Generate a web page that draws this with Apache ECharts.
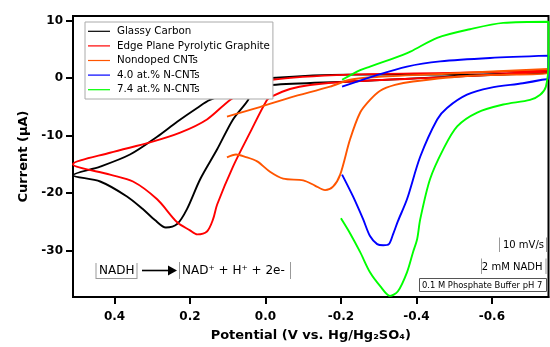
<!DOCTYPE html>
<html><head><meta charset="utf-8">
<script src="https://cdn.jsdelivr.net/npm/echarts@6/dist/echarts.min.js"></script>
<style>html,body{margin:0;padding:0;background:#fff}#c{width:550px;height:347px}</style>
</head><body><div id="c"></div>
<script>
// ---- data (Potential V vs Hg/Hg2SO4, Current µA) ----
const seriesNames = ['Glassy Carbon','Edge Plane Pyrolytic Graphite','Nondoped CNTs','4.0 at.% N-CNTs','7.4 at.% N-CNTs'];
const xTicks = [0.4, 0.2, 0, -0.2, -0.4, -0.6];
const yTicks = [10, 0, -10, -20, -30];

const gcV = [-0.75,-0.54,-0.22,-0.017,0.015,0.036,0.046,0.086,0.128,0.173,0.208,0.234,0.264,0.293,0.325,0.367,0.438,0.51,
             0.438,0.359,0.287,0.234,0.181,0.147,0.067,-0.017,-0.224,-0.542,-0.75];
const gcI = [1.1,0.6,0.6,0.0,-0.6,-2.0,-3.8,-7.2,-12.4,-17.6,-22.8,-25.4,-26.0,-24.7,-22.8,-20.6,-18.0,-16.9,
             -15.4,-13.3,-10.2,-7.6,-5.2,-3.8,-2.0,-1.2,-0.6,0.4,0.9];

const eppgV = [-0.75,-0.489,-0.224,-0.118,-0.065,-0.017,-0.004,0.041,0.086,0.128,0.139,0.155,0.181,0.200,0.234,0.287,0.351,0.412,0.51,
               0.412,0.306,0.226,0.155,0.094,0.041,-0.017,-0.224,-0.489,-0.75];
const eppgI = [1.1,0.2,-0.6,-1.2,-1.9,-3.2,-3.8,-9.5,-15.4,-22.0,-24.6,-26.7,-27.2,-26.5,-25.1,-21.1,-18.0,-16.8,-15.0,
               -13.0,-11.2,-9.5,-7.2,-3.8,-1.7,-0.3,0.6,0.9,1.3];

const cntV = [0.102,0.078,0.054,0.022,-0.012,-0.047,-0.100,-0.131,-0.158,-0.179,-0.198,-0.224,-0.251,-0.277,-0.304,-0.343,-0.391,-0.542,-0.75,
              -0.75,-0.489,-0.30,-0.224,-0.171,-0.065,0.022,0.102];
const cntI = [-13.8,-13.3,-13.7,-14.5,-16.3,-17.5,-17.8,-18.7,-19.5,-18.9,-16.8,-10.7,-6.0,-3.8,-2.2,-1.2,-0.6,0.4,0.9,
              1.6,0.8,0.2,-0.3,-1.5,-3.4,-5.2,-6.7];

const n40V = [-0.203,-0.232,-0.259,-0.277,-0.296,-0.312,-0.327,-0.338,-0.351,-0.375,-0.410,-0.455,-0.481,-0.534,-0.595,-0.682,-0.733,-0.75,
              -0.75,-0.595,-0.463,-0.375,-0.285,-0.203];
const n40I = [-16.8,-20.6,-24.6,-27.5,-28.9,-29.1,-28.9,-27.2,-24.9,-21.1,-13.7,-7.2,-5.2,-2.9,-1.7,-0.9,-0.3,0.0,
              3.9,3.5,2.9,2.0,0.3,-1.5];

const n74V = [-0.200,-0.224,-0.251,-0.277,-0.304,-0.330,-0.351,-0.375,-0.391,-0.402,-0.410,-0.436,-0.471,-0.508,-0.561,-0.630,-0.701,-0.728,-0.743,-0.75,
              -0.75,-0.630,-0.542,-0.455,-0.384,-0.330,-0.277,-0.251,-0.203];
const n74I = [-24.4,-27.0,-30.3,-33.8,-36.2,-37.9,-37.1,-33.8,-30.3,-28.0,-24.6,-17.6,-12.4,-8.4,-6.0,-4.6,-3.8,-2.9,-1.5,2.7,
              9.8,9.6,8.5,7.0,4.6,3.2,2.0,1.4,-0.3];

const colors = ['#000000','#ff0000','#ff5500','#0000ff','#00ff00'];

// ---- build ----
const zip = (v, i) => v.map((x, k) => [x, i[k]]);
const allData = [zip(gcV, gcI), zip(eppgV, eppgI), zip(cntV, cntI), zip(n40V, n40I), zip(n74V, n74I)];
const F = 'DejaVu Sans';

const chart = echarts.init(document.getElementById('c'));
const gray = '#999';
const option = {
  animation: false,
  backgroundColor: '#fff',
  grid: {left: 73, right: 1.5, top: 16, bottom: 49, show: true, borderColor: '#000', borderWidth: 2},
  xAxis: {
    type: 'value', inverse: true, min: -0.75, max: 0.51,
    splitLine: {show: false},
    axisLine: {onZero: false, lineStyle: {color: '#000', width: 2}},
    axisTick: {customValues: xTicks, length: 7, lineStyle: {color: '#000', width: 2}},
    axisLabel: {customValues: xTicks, formatter: v => (v === 0 ? '0.0' : v.toFixed(1)),
      fontFamily: F, fontWeight: 'bold', fontSize: 12, color: '#000', margin: 14},
    name: 'Potential (V vs. Hg/Hg\u2082SO\u2084)', nameLocation: 'middle', nameGap: 32,
    nameTextStyle: {fontFamily: F, fontWeight: 'bold', fontSize: 13, color: '#000'}
  },
  yAxis: {
    type: 'value', min: -38.1, max: 10.8,
    splitLine: {show: false},
    axisLine: {onZero: false, lineStyle: {color: '#000', width: 2}},
    axisTick: {customValues: yTicks, length: 7, lineStyle: {color: '#000', width: 2}},
    axisLabel: {customValues: yTicks, formatter: v => String(v),
      fontFamily: F, fontWeight: 'bold', fontSize: 12, color: '#000', margin: 10},
    name: 'Current (\u03BCA)', nameLocation: 'middle', nameGap: 41,
    nameTextStyle: {fontFamily: F, fontWeight: 'bold', fontSize: 13, color: '#000'}
  },
  legend: {
    orient: 'vertical', left: 85, top: 22, padding: [2, 3, 2, 3],
    icon: 'rect', itemWidth: 22, itemHeight: 1.2, itemGap: 0,
    backgroundColor: '#fff', borderColor: '#aaa', borderWidth: 1,
    textStyle: {fontFamily: F, fontSize: 10.3, lineHeight: 14.6, color: '#000', padding: [0, 0, 0, 2]},
    data: seriesNames
  },
  series: seriesNames.map((n, k) => ({
    name: n, type: 'line', data: allData[k], symbol: 'none', smooth: 0.3,
    color: colors[k], lineStyle: {width: 1.9, color: colors[k]}, z: 2
  })),
  graphic: [
    // NADH box
    {type: 'text', z: 100, x: 99, y: 271, style: {text: 'NADH', fontFamily: F, fontSize: 12, fill: '#000', align: 'left', verticalAlign: 'middle'}},
    {type: 'line', z: 100, shape: {x1: 96, y1: 263, x2: 96, y2: 279}, style: {stroke: gray, lineWidth: 1}},
    {type: 'line', z: 100, shape: {x1: 137, y1: 263, x2: 137, y2: 279}, style: {stroke: gray, lineWidth: 1}},
    {type: 'line', z: 100, shape: {x1: 96, y1: 278.5, x2: 137, y2: 278.5}, style: {stroke: gray, lineWidth: 1}},
    // arrow
    {type: 'line', z: 100, shape: {x1: 142, y1: 270.5, x2: 170, y2: 270.5}, style: {stroke: '#000', lineWidth: 1.6}},
    {type: 'polygon', z: 100, shape: {points: [[168, 265.5], [177, 270.5], [168, 275.5]]}, style: {fill: '#000'}},
    // product
    {type: 'line', z: 100, shape: {x1: 179.5, y1: 262, x2: 179.5, y2: 279}, style: {stroke: gray, lineWidth: 1}},
    {type: 'text', z: 100, x: 182, y: 271, style: {text: 'NAD\u207A + H\u207A + 2e-', fontFamily: F, fontSize: 12, fill: '#000', align: 'left', verticalAlign: 'middle'}},
    {type: 'line', z: 100, shape: {x1: 290.5, y1: 262, x2: 290.5, y2: 279}, style: {stroke: gray, lineWidth: 1}},
    // 10 mV/s
    {type: 'line', z: 100, shape: {x1: 499.5, y1: 237.5, x2: 499.5, y2: 252}, style: {stroke: gray, lineWidth: 1}},
    {type: 'text', z: 100, x: 544, y: 245.5, style: {text: '10 mV/s', fontFamily: F, fontSize: 10, fill: '#000', align: 'right', verticalAlign: 'middle'}},
    {type: 'line', z: 100, shape: {x1: 546.5, y1: 237.5, x2: 546.5, y2: 252}, style: {stroke: gray, lineWidth: 1}},
    // 2 mM NADH
    {type: 'line', z: 100, shape: {x1: 481.5, y1: 258.5, x2: 481.5, y2: 274}, style: {stroke: gray, lineWidth: 1}},
    {type: 'text', z: 100, x: 542.5, y: 267, style: {text: '2 mM NADH', fontFamily: F, fontSize: 10, fill: '#000', align: 'right', verticalAlign: 'middle'}},
    {type: 'line', z: 100, shape: {x1: 546, y1: 258.5, x2: 546, y2: 274}, style: {stroke: gray, lineWidth: 1}},
    // buffer
    {type: 'rect', z: 100, shape: {x: 419.5, y: 278.5, width: 127, height: 13}, style: {fill: '#fff', stroke: '#555', lineWidth: 1}},
    {type: 'text', z: 101, x: 422, y: 285.5, style: {text: '0.1 M Phosphate Buffer pH 7', fontFamily: F, fontSize: 8.4, fill: '#000', align: 'left', verticalAlign: 'middle'}}
  ]
};
chart.setOption(option);
</script>
</body></html>
